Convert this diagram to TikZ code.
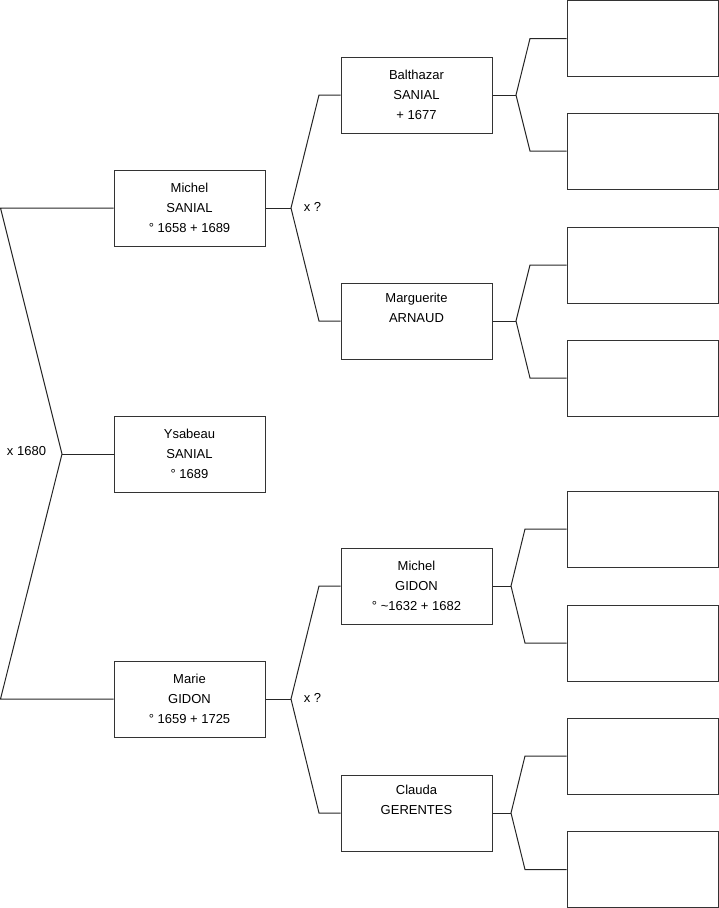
\documentclass[tikz,border=0pt]{standalone}
\usepackage{fontspec}
\setmainfont{Liberation Sans}
\begin{document}
\begin{tikzpicture}[x=1pt,y=-1pt,
  box/.style={draw=black!80, line width=1pt, minimum width=151pt, minimum height=76pt, inner sep=0pt, align=center, font=\fontsize{13}{20}\selectfont},
  conn/.style={draw=black!85, line width=1pt},
  lbl/.style={font=\fontsize{13}{15}\selectfont, inner sep=0pt}]
\useasboundingbox (0,0) rectangle (719,908);
% generation 1
\node[box] (g1a) at (189.5,208) {Michel\\SANIAL\\° 1658 + 1689};
\node[box] (g1b) at (189.5,454) {Ysabeau\\SANIAL\\° 1689};
\node[box] (g1c) at (189.5,699) {Marie\\GIDON\\° 1659 + 1725};
% generation 2
\node[box] (g2a) at (416.5,95) {Balthazar\\SANIAL\\ + 1677};
\node[box] (g2b) at (416.5,321) {Marguerite\\ARNAUD\\\strut};
\node[box] (g2c) at (416.5,586) {Michel\\GIDON\\° \textasciitilde1632 + 1682};
\node[box] (g2d) at (416.5,813) {Clauda\\GERENTES\\\strut};
% generation 3
\node[box] (g3a) at (642.5,38.5) {};
\node[box] (g3b) at (642.5,151) {};
\node[box] (g3c) at (642.5,265) {};
\node[box] (g3d) at (642.5,378) {};
\node[box] (g3e) at (642.5,529) {};
\node[box] (g3f) at (642.5,643) {};
\node[box] (g3g) at (642.5,756) {};
\node[box] (g3h) at (642.5,869.5) {};
% main fork
\coordinate (t0) at (0.5,208);
\coordinate (m0) at (62,454);
\coordinate (b0) at (0.5,699);
\draw[conn] (g1a.west) -- (t0) -- (m0) -- (b0) -- (g1c.west);
\draw[conn] (m0) -- (g1b.west);
\node[lbl] (x0) at (26.5,451) {x 1680};
% fork Michel SANIAL
\coordinate (fa) at (291,208);
\coordinate (ua) at (319,95);
\coordinate (da) at (319,321);
\draw[conn] (g1a.east) -- (fa);
\draw[conn] (g2a.west) -- (ua) -- (fa) -- (da) -- (g2b.west);
\node[lbl] (xa) at (312.5,207) {x ?};
% fork Marie GIDON
\coordinate (fc) at (291,699);
\coordinate (uc) at (319,586);
\coordinate (dc) at (319,813);
\draw[conn] (g1c.east) -- (fc);
\draw[conn] (g2c.west) -- (uc) -- (fc) -- (dc) -- (g2d.west);
\node[lbl] (xc) at (312.5,698) {x ?};
% generation 2 forks
\coordinate (v1) at (516,95);
\coordinate (v1u) at (530,38.5);
\coordinate (v1d) at (530,151);
\draw[conn] (g2a.east) -- (v1);
\draw[conn] (g3a.west) -- (v1u) -- (v1) -- (v1d) -- (g3b.west);
\coordinate (v2) at (516,321);
\coordinate (v2u) at (530,265);
\coordinate (v2d) at (530,378);
\draw[conn] (g2b.east) -- (v2);
\draw[conn] (g3c.west) -- (v2u) -- (v2) -- (v2d) -- (g3d.west);
\coordinate (v3) at (511,586);
\coordinate (v3u) at (525,529);
\coordinate (v3d) at (525,643);
\draw[conn] (g2c.east) -- (v3);
\draw[conn] (g3e.west) -- (v3u) -- (v3) -- (v3d) -- (g3f.west);
\coordinate (v4) at (511,813);
\coordinate (v4u) at (525,756);
\coordinate (v4d) at (525,869.5);
\draw[conn] (g2d.east) -- (v4);
\draw[conn] (g3g.west) -- (v4u) -- (v4) -- (v4d) -- (g3h.west);
\end{tikzpicture}
\end{document}
